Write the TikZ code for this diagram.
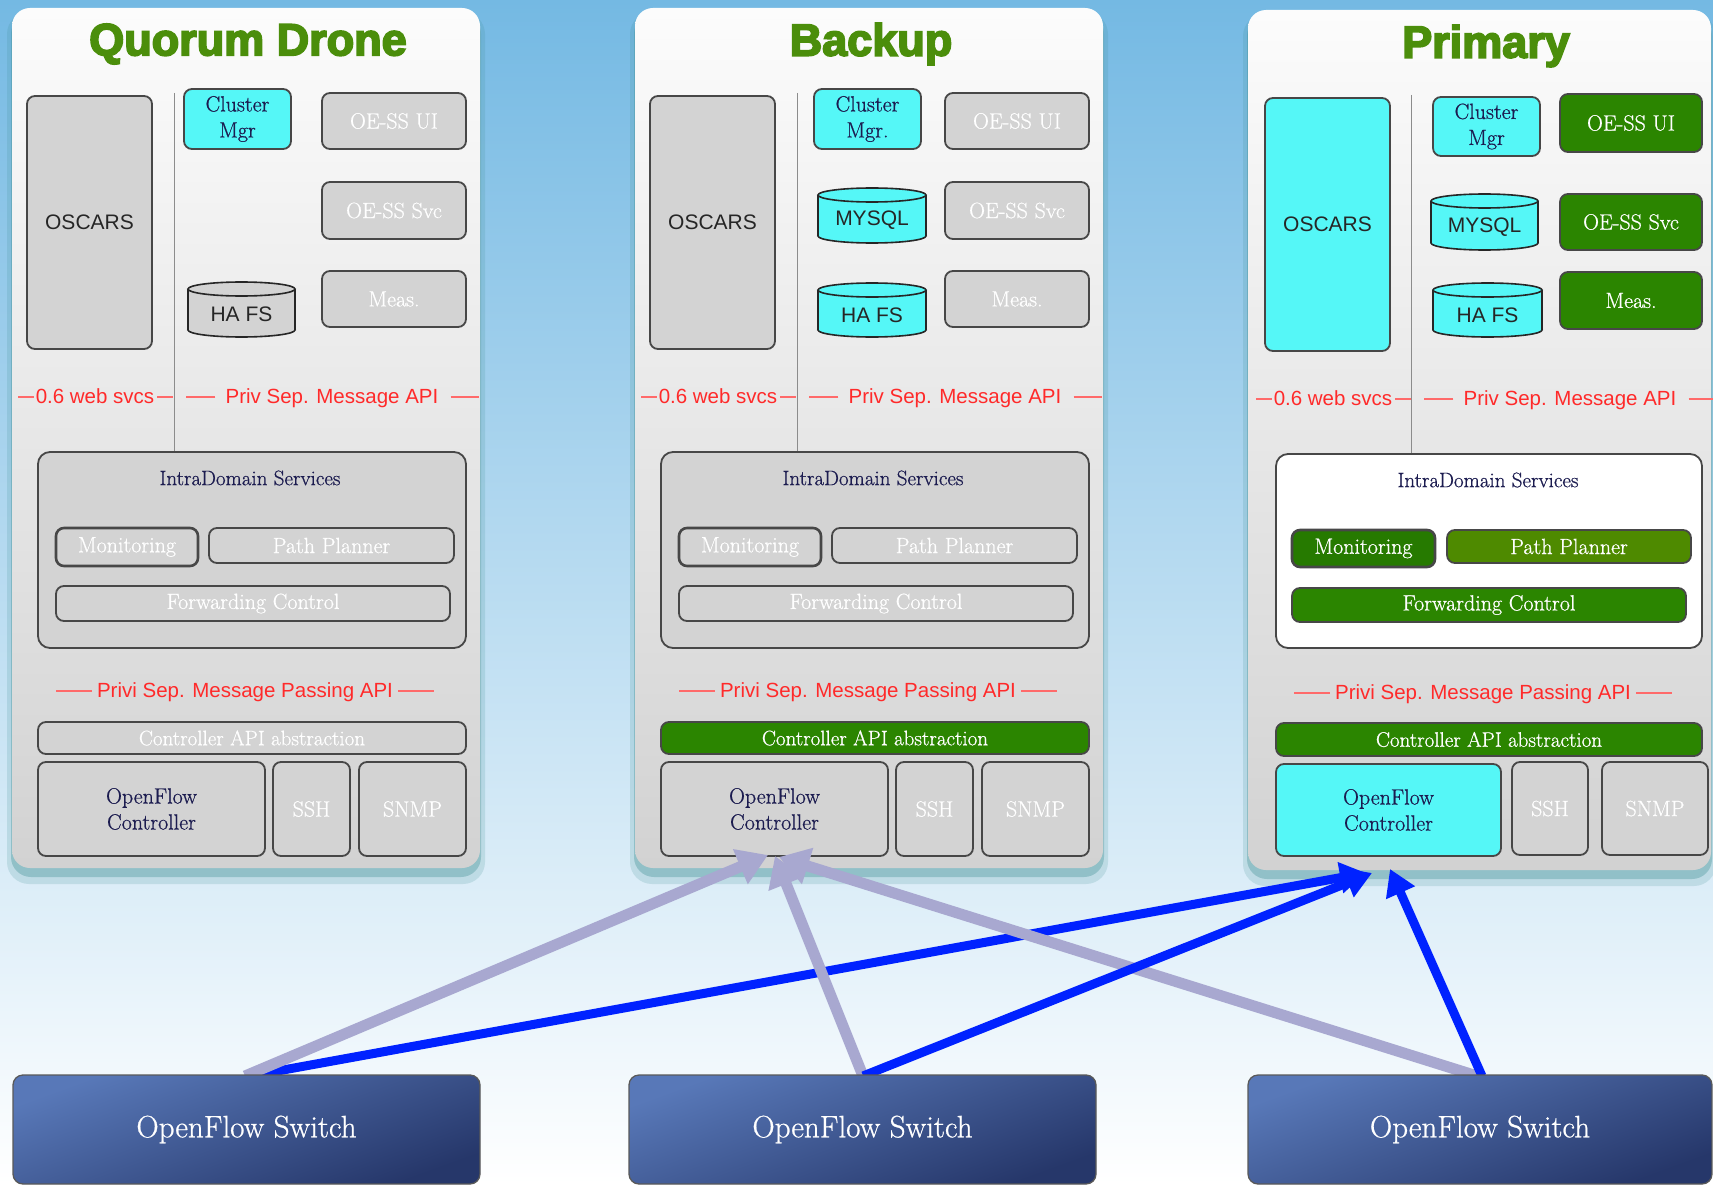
\documentclass[tikz,border=0pt]{standalone}
\usepackage{fontspec}
\setmainfont{Latin Modern Roman}[FakeBold=0.7]
\setsansfont{Liberation Sans}
\newfontfamily\titlefont{Liberation Sans}[BoldFeatures={FakeBold=4}]
\usetikzlibrary{arrows.meta,calc}
\definecolor{bgtop}{HTML}{74B9E3}
\definecolor{bgmid}{HTML}{C0E0F0}
\definecolor{boxgray}{HTML}{D3D3D3}
\definecolor{cyanbox}{HTML}{55F7F7}
\definecolor{gbox}{HTML}{2B8500}
\definecolor{gdark}{HTML}{267A00}
\definecolor{golive}{HTML}{4E8A00}
\definecolor{titlegreen}{HTML}{4B8E0B}
\definecolor{apired}{HTML}{FF2A2A}
\definecolor{navy}{HTML}{1C1C50}
\definecolor{lav}{HTML}{A8A8D0}
\definecolor{arrblue}{HTML}{0022FF}
\definecolor{swtop}{HTML}{5878B8}
\definecolor{swbot}{HTML}{26376A}
\definecolor{paneltop}{HTML}{FCFCFC}
\definecolor{panelbot}{HTML}{D2D2D2}
\definecolor{glow}{HTML}{3F8E92}
\tikzset{
  bx/.style={rounded corners=8pt, inner sep=0pt, outer sep=0pt, line width=1.8pt,
    draw=black!72, align=center, font=\fontsize{22}{26}\selectfont},
  graybx/.style={bx, fill=boxgray, text=white},
  cyanbx/.style={bx, fill=cyanbox, text=navy},
  greenbx/.style={bx, fill=gbox, text=white},
  sanstext/.style={font=\sffamily\fontsize{21}{24}\selectfont, text=black!85},
  redlbl/.style={font=\sffamily\fontsize{20.5}{24}\selectfont, text=apired, inner sep=0pt,
    text height=16pt, text depth=3pt},
  redline/.style={draw=apired!70, line width=1.3pt},
  divider/.style={draw=black!45, line width=1pt},
  navytext/.style={font=\fontsize{21}{25}\selectfont, text=navy, inner sep=0pt},
  paneltitle/.style={font=\titlefont\bfseries\fontsize{45}{50}\selectfont, text=titlegreen, inner sep=0pt},
  panelbox/.style={rounded corners=18pt, inner sep=0pt, outer sep=0pt, top color=paneltop, bottom color=panelbot},
  switchbox/.style={rounded corners=10pt, inner sep=0pt, outer sep=0pt, draw=black!65, line width=1.3pt,
    top color=swtop, bottom color=swbot, shading angle=20, text=white, font=\fontsize{31}{36}\selectfont},
  lavarrow/.style={draw=lav, line width=11pt, -{Triangle[length=30pt,width=36pt]}},
  bluearrow/.style={draw=arrblue, line width=9pt, -{Triangle[length=26pt,width=30pt]}},
}
\newcommand\boxat[7]{%
  \node[#1, minimum width={#5-#3}, minimum height={#6-#4}] (#2) at ({(#3+#5)/2},{(#4+#6)/2}) {#7};}
\newcommand\cylat[7]{%
  \pgfmathsetmacro\cylcx{(#3+#5)/2}\pgfmathsetmacro\cylrx{(#5-#3)/2}%
  \filldraw[fill=#1, draw=black!85, line width=1.6pt] (\cylcx,#6-7) ellipse (\cylrx pt and 7pt);
  \fill[#1] (#3,#4+7) rectangle (#5,#6-7);
  \draw[black!85, line width=1.6pt] (#3,#4+7) -- (#3,#6-7) (#5,#4+7) -- (#5,#6-7);
  \filldraw[fill=#1, draw=black!85, line width=1.6pt] (\cylcx,#4+7) ellipse (\cylrx pt and 7pt);
  \node[sanstext] (#2) at (\cylcx,{(#4+#6)/2+5}) {#7};}
\newcommand\panelbg[5]{%
  \fill[glow, opacity=0.18, rounded corners=22pt] (#2-5,#3+4) rectangle (#4+5,#5+16);
  \fill[glow, opacity=0.35, rounded corners=20pt] (#2-1,#3+6) rectangle (#4+1,#5+9);
  \boxat{panelbox}{#1}{#2}{#3}{#4}{#5}{}}
\newcommand\redrows[1]{%
  \node[redlbl] (#1web) at (95,397) {0.6 web svcs};
  \draw[redline] ($(#1web.west)+(-2,0)$) -- ++(-16,0);
  \draw[redline] ($(#1web.east)+(3,0)$) -- ++(16,0);
  \node[redlbl] (#1priv) at (332,397) {Priv Sep. Message API};
  \draw[redline] ($(#1priv.west)+(-10,0)$) -- ++(-29,0);
  \draw[redline] ($(#1priv.east)+(12,0)$) -- ++(28,0);}
\newcommand\redrowtwo[1]{%
  \node[redlbl] (#1pass) at (245,691) {Privi Sep. Message Passing API};
  \draw[redline] ($(#1pass.west)+(-5,0)$) -- ++(-36,0);
  \draw[redline] ($(#1pass.east)+(5,0)$) -- ++(36,0);}
\begin{document}
\begin{tikzpicture}[x=1pt,y=-1pt]
\useasboundingbox (0,0) rectangle (1713,1185);
\clip (0,0) rectangle (1713,1185);
\shade[top color=bgtop, middle color=bgmid, bottom color=white] (0,0) rectangle (1713,1185);

% ---------------- Panel 1: Quorum Drone
\begin{scope}
\panelbg{p1}{12}{8}{480}{868}
\node[paneltitle] (p1title) at (248,44) {Quorum Drone};
\draw[divider] (174,93) -- (174,452);
\boxat{graybx, sanstext}{p1osc}{27}{96}{152}{349}{OSCARS}
\boxat{cyanbx}{p1clu}{184}{89}{291}{149}{Cluster\\Mgr}
\boxat{graybx}{p1ui}{322}{93}{466}{149}{OE-SS UI}
\boxat{graybx}{p1svc}{322}{182}{466}{239}{OE-SS Svc}
\boxat{graybx}{p1meas}{322}{271}{466}{327}{Meas.}
\cylat{boxgray}{p1hafs}{188}{282}{295}{337}{HA FS}
\redrows{p1}
\boxat{graybx, rounded corners=12pt}{p1intra}{38}{452}{466}{648}{}
\node[navytext] (p1intratitle) at (250,478) {IntraDomain Services};
\boxat{graybx, line width=2.6pt}{p1mon}{56}{528}{198}{566}{Monitoring}
\boxat{graybx}{p1path}{209}{528}{454}{563}{Path Planner}
\boxat{graybx}{p1fwd}{56}{586}{450}{621}{Forwarding Control}
\redrowtwo{p1}
\boxat{graybx, font=\fontsize{21}{25}\selectfont}{p1capi}{38}{722}{466}{754}{Controller API abstraction}
\boxat{graybx, text=navy}{p1ofc}{38}{762}{265}{856}{OpenFlow\\Controller}
\boxat{graybx}{p1ssh}{273}{762}{350}{856}{SSH}
\boxat{graybx}{p1snmp}{359}{762}{466}{856}{SNMP}
\end{scope}

% ---------------- Panel 2: Backup
\begin{scope}[shift={(623,0)}]
\panelbg{p2}{12}{8}{480}{868}
\node[paneltitle] (p2title) at (248,44) {Backup};
\draw[divider] (174,93) -- (174,452);
\boxat{graybx, sanstext}{p2osc}{27}{96}{152}{349}{OSCARS}
\boxat{cyanbx}{p2clu}{191}{89}{298}{149}{Cluster\\Mgr.}
\boxat{graybx}{p2ui}{322}{93}{466}{149}{OE-SS UI}
\boxat{graybx}{p2svc}{322}{182}{466}{239}{OE-SS Svc}
\boxat{graybx}{p2meas}{322}{271}{466}{327}{Meas.}
\cylat{cyanbox}{p2mysql}{195}{188}{303}{243}{MYSQL}
\cylat{cyanbox}{p2hafs}{195}{283}{303}{337}{HA FS}
\redrows{p2}
\boxat{graybx, rounded corners=12pt}{p2intra}{38}{452}{466}{648}{}
\node[navytext] (p2intratitle) at (250,478) {IntraDomain Services};
\boxat{graybx, line width=2.6pt}{p2mon}{56}{528}{198}{566}{Monitoring}
\boxat{graybx}{p2path}{209}{528}{454}{563}{Path Planner}
\boxat{graybx}{p2fwd}{56}{586}{450}{621}{Forwarding Control}
\redrowtwo{p2}
\boxat{greenbx, font=\fontsize{21}{25}\selectfont}{p2capi}{38}{722}{466}{754}{Controller API abstraction}
\boxat{graybx, text=navy}{p2ofc}{38}{762}{265}{856}{OpenFlow\\Controller}
\boxat{graybx}{p2ssh}{273}{762}{350}{856}{SSH}
\boxat{graybx}{p2snmp}{359}{762}{466}{856}{SNMP}
\end{scope}

% ---------------- Panel 3: Primary
\begin{scope}[shift={(1238,2)}]
\panelbg{p3}{10}{8}{473}{868}
\node[paneltitle] (p3title) at (248,44) {Primary};
\draw[divider] (173,93) -- (173,452);
\boxat{cyanbx, sanstext}{p3osc}{27}{96}{152}{349}{OSCARS}
\boxat{cyanbx}{p3clu}{195}{95}{302}{154}{Cluster\\Mgr}
\boxat{greenbx}{p3ui}{322}{92}{464}{150}{OE-SS UI}
\boxat{greenbx}{p3svc}{322}{192}{464}{248}{OE-SS Svc}
\boxat{greenbx}{p3meas}{322}{270}{464}{327}{Meas.}
\cylat{cyanbox}{p3mysql}{193}{192}{300}{248}{MYSQL}
\cylat{cyanbox}{p3hafs}{195}{281}{304}{335}{HA FS}
\redrows{p3}
\boxat{bx, fill=white, rounded corners=12pt}{p3intra}{38}{452}{464}{646}{}
\node[navytext] (p3intratitle) at (250,478) {IntraDomain Services};
\boxat{greenbx, fill=gdark, line width=2.6pt}{p3mon}{54}{528}{197}{565}{Monitoring}
\boxat{greenbx, fill=golive}{p3path}{209}{528}{453}{561}{Path Planner}
\boxat{greenbx}{p3fwd}{54}{586}{448}{620}{Forwarding Control}
\redrowtwo{p3}
\boxat{greenbx, font=\fontsize{21}{25}\selectfont}{p3capi}{38}{721}{464}{754}{Controller API abstraction}
\boxat{cyanbx}{p3ofc}{38}{762}{263}{854}{OpenFlow\\Controller}
\boxat{graybx}{p3ssh}{274}{760}{350}{853}{SSH}
\boxat{graybx}{p3snmp}{364}{760}{470}{853}{SNMP}
\end{scope}

% ---------------- arrow targets
\coordinate (la1) at (768,855);
\coordinate (la2) at (775,856);
\coordinate (la3) at (779,857);
\coordinate (bl1) at (1366,873);
\coordinate (bl2) at (1372,873);
\coordinate (bl3) at (1390,869);

% ---------------- arrow start points on the switches' top edges
\node[inner sep=0pt, minimum size=0pt] (sw1a) at (246,1076) {};
\node[inner sep=0pt, minimum size=0pt] (sw2a) at (863,1076) {};
\node[inner sep=0pt, minimum size=0pt] (sw3a) at (1480,1076) {};

\draw[bluearrow] ($(sw1a)+(4,0)$) -- (bl1);
\draw[lavarrow] ($(sw1a)+(-1,0)$) -- (la1);
\draw[lavarrow] (sw2a) -- (la2);
\draw[lavarrow] ($(sw3a)+(-3,0)$) -- (la3);
\draw[bluearrow] (sw2a) -- (bl2);
\draw[bluearrow] ($(sw3a)+(2,0)$) -- (bl3);

\boxat{switchbox}{sw1}{13}{1075}{480}{1184}{OpenFlow Switch}
\boxat{switchbox}{sw2}{629}{1075}{1096}{1184}{OpenFlow Switch}
\boxat{switchbox}{sw3}{1248}{1075}{1712}{1184}{OpenFlow Switch}
\end{tikzpicture}
\end{document}
